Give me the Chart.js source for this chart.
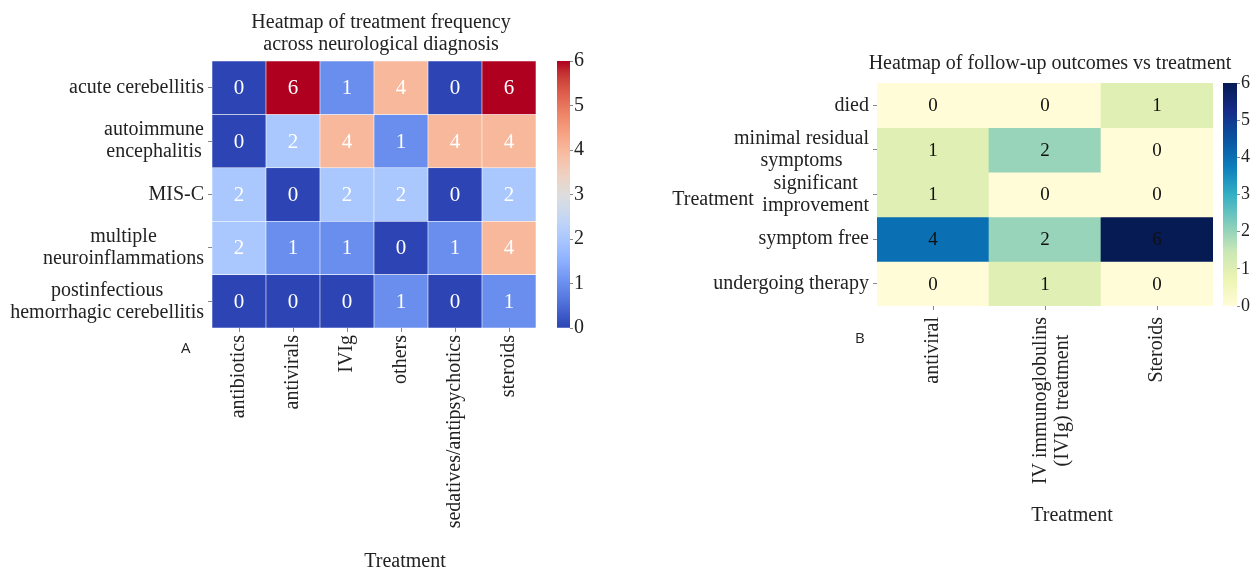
<!DOCTYPE html>
<html><head><meta charset="utf-8">
<script src="https://cdn.jsdelivr.net/npm/chart.js@4/dist/chart.umd.min.js"></script>
<style>
html,body{margin:0;padding:0;background:#fff;}
#wrap{position:relative;width:1256px;height:569px;overflow:hidden;background:#fff;}
#wrap canvas{position:absolute;left:0;top:0;}
.panel{position:absolute;font-family:"Open Sans","Liberation Sans",sans-serif;font-size:15px;line-height:15px;color:#222;}
</style></head><body>
<div id="wrap">
<canvas id="hA" width="1256" height="569"></canvas>
<canvas id="cA" width="1256" height="569"></canvas>
<canvas id="hB" width="1256" height="569"></canvas>
<canvas id="cB" width="1256" height="569"></canvas>
<div class="panel" style="left:181px;top:340px">A</div>
<div class="panel" style="left:855px;top:330px">B</div>
</div>
<script>
// ---------- data ----------
const treatmentsA = [['antibiotics'], ['antivirals'], ['IVIg'], ['others'], ['sedatives/antipsychotics'], ['steroids']];
const diagnosesA = [['acute cerebellitis'], ['autoimmune', 'encephalitis'], ['MIS-C'], ['multiple', 'neuroinflammations'], ['postinfectious', 'hemorrhagic cerebellitis']];
const countsA = [
  [0, 6, 1, 4, 0, 6],
  [0, 2, 4, 1, 4, 4],
  [2, 0, 2, 2, 0, 2],
  [2, 1, 1, 0, 1, 4],
  [0, 0, 0, 1, 0, 1]
];
const treatmentsB = [['antiviral'], ['IV immunoglobulins', '(IVIg) treatment'], ['Steroids']];
const outcomesB = [['died'], ['minimal residual', 'symptoms'], ['significant', 'improvement'], ['symptom free'], ['undergoing therapy']];
const countsB = [
  [0, 0, 1],
  [1, 2, 0],
  [1, 0, 0],
  [4, 2, 6],
  [0, 1, 0]
];
const colorRange = [0, 6];
const titleA = ['Heatmap of treatment frequency', 'across neurological diagnosis'];
const titleB = ['Heatmap of follow-up outcomes vs treatment'];
const xTitle = 'Treatment';

// ---------- colormaps ----------
const coolwarmStops = [[44,68,180],[56,82,194],[68,97,207],[80,112,218],[92,126,228],[102,138,234],[114,151,242],[128,163,248],[141,176,254],[152,185,255],[163,194,255],[174,201,253],[184,208,249],[194,213,244],[204,217,238],[213,219,230],[221,221,221],[229,216,209],[236,211,197],[241,204,185],[245,196,173],[247,187,160],[247,177,148],[247,166,135],[244,154,123],[241,141,111],[236,127,99],[229,112,89],[222,96,77],[213,80,66],[203,62,56],[190,36,45],[176,0,32]];
const ylgnbuStops = [[255,252,215],[236,244,178],[199,230,182],[127,203,188],[50,175,196],[12,126,188],[10,82,162],[22,45,135],[6,26,84]];
function makeCmap(stops){
  return function(t){
    t = Math.max(0, Math.min(1, t));
    const p = t * (stops.length - 1), i = Math.min(Math.floor(p), stops.length - 2), f = p - i;
    const a = stops[i], b = stops[i+1];
    return 'rgb(' + a.map((v,k)=>Math.round(v + (b[k]-v)*f)).join(',') + ')';
  };
}
const coolwarm = makeCmap(coolwarmStops);
const ylgnbu = makeCmap(ylgnbuStops);

const W = 1256, H = 569;
const SERIF = '"Liberation Serif","Times New Roman","DejaVu Serif",serif';

const textPlugin = {
  id: 'textPlugin',
  afterDatasetsDraw(chart, args, o) {
    if (!o.cellFont) return;
    const ctx = chart.ctx;
    ctx.save();
    ctx.font = o.cellFont; ctx.fillStyle = o.cellColor; ctx.textAlign = 'center'; ctx.textBaseline = 'middle';
    chart.data.datasets.forEach((ds, i) => {
      const meta = chart.getDatasetMeta(i);
      meta.data.forEach((el, j) => {
        ctx.fillText(String(ds.values[j]), el.x, (el.y + el.base) / 2 + 1);
      });
    });
    ctx.restore();
  },
  afterDraw(chart, args, o) {
    const ctx = chart.ctx, a = chart.chartArea;
    ctx.save();
    ctx.fillStyle = '#222'; ctx.textBaseline = 'middle'; ctx.textAlign = 'center';
    if (o.rowLabels) {
      ctx.font = o.font;
      const ys = chart.scales.y;
      o.rowLabels.forEach((lines, i) => {
        const y = ys.getPixelForValue(i + 0.5);
        const w = Math.max(...lines.map(l => ctx.measureText(l).width));
        const cx = a.left - o.rowGap - w / 2;
        lines.forEach((l, k) => ctx.fillText(l, cx, y + (k - (lines.length - 1) / 2) * o.lh));
      });
    }
    if (o.colLabels) {
      ctx.font = o.font;
      const xs = chart.scales.x;
      o.colLabels.forEach((lines, j) => {
        const x = xs.getPixelForValue(j) + (lines.length > 1 ? (o.multiShift || 0) : 0);
        const w = Math.max(...lines.map(l => ctx.measureText(l).width));
        ctx.save();
        ctx.translate(x, a.bottom + o.colGap);
        ctx.rotate(-Math.PI / 2);
        lines.forEach((l, k) => ctx.fillText(l, -w / 2, (k - (lines.length - 1) / 2) * o.lh));
        ctx.restore();
      });
    }
    (o.texts || []).forEach(t => {
      ctx.font = t.font; ctx.textAlign = t.align || 'center'; ctx.textBaseline = 'alphabetic';
      ctx.fillText(t.text, t.x, t.y);
    });
    ctx.restore();
  }
};

function heatmap(id, cfg) {
  const {cols, rows, vals, cmap, area} = cfg;
  const vmin = colorRange[0], vmax = colorRange[1];
  const datasets = rows.map((r, i) => ({
    label: r.join(' '),
    data: cols.map(() => [i, i + 1]),
    values: vals[i],
    backgroundColor: vals[i].map(v => cmap((v - vmin) / (vmax - vmin))),
    borderColor: cfg.border ? 'rgba(255,255,255,0.85)' : 'rgba(0,0,0,0)',
    borderWidth: cfg.border ? 0.6 : 0,
    borderSkipped: false,
    grouped: false,
    categoryPercentage: 1,
    barPercentage: 1
  }));
  new Chart(document.getElementById(id), {
    type: 'bar',
    data: {labels: cols.map(c => c.join(' ')), datasets},
    options: {
      responsive: false, animation: false, events: [],
      layout: {padding: {left: 0, right: W - area.right, top: area.top, bottom: 0}},
      plugins: {
        legend: {display: false}, tooltip: {enabled: false}, title: {display: false},
        textPlugin: {
          font: '20px ' + SERIF, lh: 22, rowGap: 8, colGap: cfg.colGap, multiShift: cfg.multiShift,
          rowLabels: rows, colLabels: cols,
          cellFont: cfg.cellFont, cellColor: cfg.cellColor,
          texts: cfg.texts
        }
      },
      scales: {
        x: {
          type: 'category', offset: true,
          grid: {offset: false, drawOnChartArea: false, drawTicks: true, tickLength: 4, color: '#888', lineWidth: 1},
          border: {display: false}, ticks: {display: false},
          afterFit: s => { s.height = H - area.bottom; }
        },
        y: {
          type: 'linear', min: 0, max: rows.length, reverse: true,
          grid: {drawOnChartArea: false, drawTicks: true, tickLength: 4, color: '#888', lineWidth: 1},
          border: {display: false}, ticks: {display: false},
          afterBuildTicks: s => { s.ticks = rows.map((_, i) => ({value: i + 0.5})); },
          afterFit: s => { s.width = area.left; }
        }
      }
    },
    plugins: [textPlugin]
  });
}

function colorbar(id, cmap, area, axisW, fontSize) {
  new Chart(document.getElementById(id), {
    type: 'bar',
    data: {labels: [''], datasets: [{
      data: [colorRange.slice()],
      backgroundColor: c => {
        const ar = c.chart.chartArea;
        if (!ar) return 'rgba(0,0,0,0)';
        const g = c.chart.ctx.createLinearGradient(0, ar.bottom, 0, ar.top);
        for (let s = 0; s <= 60; s++) g.addColorStop(s / 60, cmap(s / 60));
        return g;
      },
      borderWidth: 0, categoryPercentage: 1, barPercentage: 1
    }]},
    options: {
      responsive: false, animation: false, events: [],
      layout: {padding: {left: area.left, right: W - area.right - axisW, top: area.top, bottom: H - area.bottom}},
      plugins: {legend: {display: false}, tooltip: {enabled: false}},
      scales: {
        x: {display: false},
        y: {
          position: 'right', min: colorRange[0], max: colorRange[1],
          ticks: {stepSize: 1, font: {family: SERIF, size: fontSize}, color: '#222', padding: 1},
          grid: {drawOnChartArea: false, tickLength: 3, color: '#888'},
          border: {display: false},
          afterFit: s => { s.width = axisW; }
        }
      }
    }
  });
}

heatmap('hA', {
  cols: treatmentsA, rows: diagnosesA, vals: countsA, cmap: coolwarm,
  area: {left: 212, right: 536, top: 61, bottom: 328},
  border: true, colGap: 7,
  cellFont: '21px ' + SERIF, cellColor: '#ffffff',
  texts: [
    {text: titleA[0], x: 381, y: 28, font: '20px ' + SERIF},
    {text: titleA[1], x: 381, y: 50, font: '20px ' + SERIF},
    {text: xTitle, x: 405, y: 567, font: '20px ' + SERIF}
  ]
});
colorbar('cA', coolwarm, {left: 557, right: 570, top: 61, bottom: 328}, 28, 20);

heatmap('hB', {
  cols: treatmentsB, rows: outcomesB, vals: countsB, cmap: ylgnbu,
  area: {left: 877, right: 1213, top: 83, bottom: 306},
  border: false, colGap: 11, multiShift: 7,
  cellFont: '19px ' + SERIF, cellColor: '#111111',
  texts: [
    {text: titleB[0], x: 1050, y: 69, font: '20px ' + SERIF},
    {text: xTitle, x: 1072, y: 521, font: '20px ' + SERIF},
    {text: xTitle, x: 713, y: 205, font: '20px ' + SERIF}
  ]
});
colorbar('cB', ylgnbu, {left: 1223, right: 1237, top: 83, bottom: 306}, 19, 18);
</script>
</body></html>
